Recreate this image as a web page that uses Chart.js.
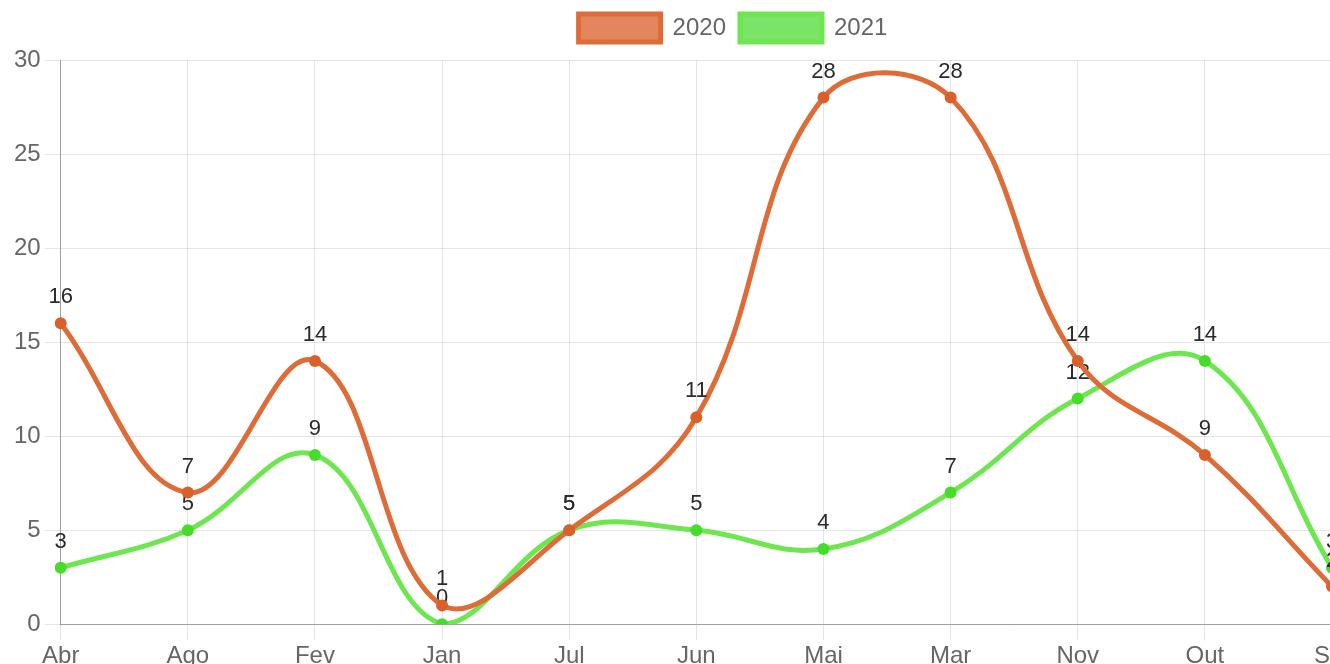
<!DOCTYPE html>
<html>
<head>
<meta charset="utf-8">
<script src="https://cdn.jsdelivr.net/npm/chart.js@4/dist/chart.umd.min.js"></script>
<style>
  html, body { margin: 0; padding: 0; background: #fff; overflow: hidden; }
  #wrap { width: 1456px; height: 673px; }
</style>
</head>
<body>
<div id="wrap"><canvas id="grafico"></canvas></div>
<script>
// meses (ordem alfabética, como no original)
const meses = ['Abr', 'Ago', 'Fev', 'Jan', 'Jul', 'Jun', 'Mai', 'Mar', 'Nov', 'Out', 'Set'];
const valores2020 = [16, 7, 14, 1, 5, 11, 28, 28, 14, 9, 2];
const valores2021 = [3, 5, 9, 0, 5, 5, 4, 7, 12, 14, 3];
const ticksY = [0, 5, 10, 15, 20, 25, 30];

/** Escreve o valor acima de cada ponto, logo depois de desenhar a série */
const rotulosValor = {
    id: 'rotulosValor',
    afterDatasetDraw(chart, args) {
        const ctx = chart.ctx, ds = chart.data.datasets[args.index];
        ctx.save();
        ctx.font = '22px "Liberation Sans", Arial, sans-serif';
        ctx.fillStyle = '#2a2a2a';
        ctx.textAlign = 'center';
        ctx.textBaseline = 'alphabetic';
        args.meta.data.forEach((pt, j) => ctx.fillText(String(ds.data[j]), pt.x, pt.y - 20));
        ctx.restore();
    }
};

/** Dá um pouco mais de espaço abaixo da legenda */
const folgaLegenda = {
    id: 'folgaLegenda',
    beforeInit(chart) {
        const fitOrig = chart.legend.fit;
        chart.legend.fit = function () { fitOrig.call(this); this.height += 8; };
    }
};

Chart.defaults.font.family = '"Liberation Sans", Arial, sans-serif';
Chart.defaults.color = '#666';

new Chart(document.getElementById('grafico'), {
    type: 'line',
    data: {
        labels: meses,
        datasets: [
            { label: '2020', data: valores2020, borderColor: '#de6c38', backgroundColor: 'rgba(224,128,84,0.95)',
              borderWidth: 5, tension: 0.4, fill: false, pointRadius: 6, pointBorderWidth: 0,
              pointBackgroundColor: '#d9602a', pointBorderColor: '#d9602a', yAxisID: 'y' },
            { label: '2021', data: valores2021, borderColor: '#6ee64f', backgroundColor: 'rgba(116,227,96,0.95)',
              borderWidth: 5, tension: 0.4, fill: false, pointRadius: 6, pointBorderWidth: 0,
              pointBackgroundColor: '#45dc2a', pointBorderColor: '#45dc2a', yAxisID: 'y' }
        ]
    },
    options: {
        responsive: true, maintainAspectRatio: false, animation: false,
        layout: { padding: { top: 0, right: 0, left: 10, bottom: 0 } },
        plugins: {
            legend: { labels: { boxWidth: 82, boxHeight: 28, font: { size: 24 }, padding: 14, color: '#666' } },
            tooltip: { enabled: false }
        },
        scales: {
            x: {
                grid: { color: 'rgba(0,0,0,0.1)', tickLength: 16 },
                border: { color: 'rgba(0,0,0,0.3)' },
                ticks: { font: { size: 24 }, padding: 2, maxRotation: 0 }
            },
            y: {
                min: 0, max: 30,
                afterBuildTicks: (axis) => { axis.ticks = ticksY.map(v => ({ value: v })); },
                grid: { color: 'rgba(0,0,0,0.1)', tickLength: 16 },
                border: { color: 'rgba(0,0,0,0.3)' },
                ticks: { font: { size: 24 }, padding: 4 }
            },
            // eixo vazio à direita: só reserva espaço
            folga: {
                position: 'right', min: 0, max: 30,
                grid: { display: false }, border: { display: false },
                ticks: { display: false },
                afterFit: (axis) => { axis.width = 124; }
            }
        }
    },
    plugins: [rotulosValor, folgaLegenda]
});
</script>
</body>
</html>
